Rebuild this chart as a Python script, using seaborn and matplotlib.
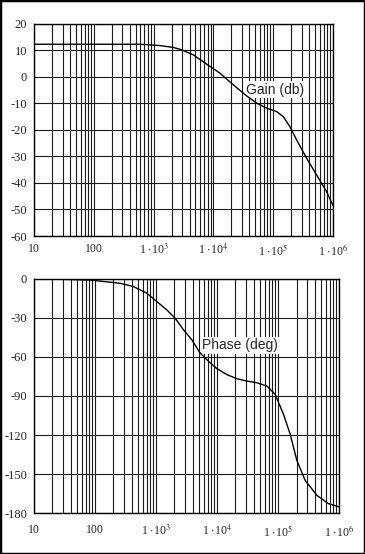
import numpy as np
import pandas as pd
import matplotlib
matplotlib.use("Agg")
import matplotlib.pyplot as plt
import matplotlib.ticker as mticker
from matplotlib.patches import Rectangle
import seaborn as sns

# gain curve
gain_freq = [10, 593, 1279, 2133, 2951, 4613, 7727, 12880, 21530, 36060,
             52970, 77800, 114500, 147600, 191000, 247200, 363100, 533300,
             785200, 1000000]
gain_db = [12.3, 12.3, 11.8, 11.1, 10.2, 8.3, 4.8, 1.4, -3.0, -7.2,
           -9.9, -11.8, -13.1, -15.0, -18.8, -23.8, -30.7, -37.0,
           -43.3, -48.5]

# phase curve
phase_freq = [18, 83, 257, 425, 705, 1026, 1496, 2046, 2805, 3846, 5260,
              7194, 9886, 14420, 21040, 30690, 44770, 65310, 89330, 122200,
              157400, 202800, 277300, 430500, 668300, 1000000]
phase_deg = [0, -0.8, -3.3, -5.8, -10.9, -17.3, -23.7, -30.1, -39.0, -46.7,
             -56.9, -63.2, -68.9, -73.5, -76.7, -78.5, -79.8, -82.3, -88.7,
             -104.0, -119.3, -139.6, -154.9, -166.4, -172.8, -175.3]

xticks = [10, 100, 1e3, 1e4, 1e5, 1e6]
xticklabels = ["10", "100", "1 $\\cdot$10$^{3}$", "1 $\\cdot$10$^{4}$",
               "1 $\\cdot$10$^{5}$", "1 $\\cdot$10$^{6}$"]
gain_ticks = [20, 10, 0, -10, -20, -30, -40, -50, -60]
phase_ticks = [0, -30, -60, -90, -120, -150, -180]

sns.set_style("white")
plt.rcParams["font.family"] = ["Liberation Serif", "DejaVu Serif"]
plt.rcParams["mathtext.fontset"] = "stix"

gain = pd.DataFrame({"freq": gain_freq, "db": gain_db})
phase = pd.DataFrame({"freq": phase_freq, "deg": phase_deg})

fig = plt.figure(figsize=(3.65, 5.54), dpi=100)
ax1 = fig.add_axes([0.0932, 0.574, 0.819, 0.383])
ax2 = fig.add_axes([0.0932, 0.074, 0.836, 0.4224])


def style_axis(ax, yticks, ylim):
    ax.set_xscale("log")
    ax.set_xlim(10, 1e6)
    ax.set_ylim(*ylim)
    ax.set_xticks(xticks)
    ax.set_xticklabels(xticklabels)
    ax.xaxis.set_minor_locator(mticker.LogLocator(base=10, subs=range(2, 10), numticks=20))
    ax.xaxis.set_minor_formatter(mticker.NullFormatter())
    ax.set_yticks(yticks)
    ax.set_yticklabels([str(t) for t in yticks])
    ax.grid(True, which="both", axis="x", color="0.1", lw=0.8)
    ax.grid(True, which="major", axis="y", color="0.1", lw=0.8)
    ax.tick_params(which="both", length=0, labelsize=9)
    ax.tick_params(axis="x", labelsize=8.5, pad=5)
    ax.tick_params(axis="y", pad=5)
    for s in ax.spines.values():
        s.set_color("black")
        s.set_linewidth(1.0)
    ax.set_xlabel("")
    ax.set_ylabel("")


sns.lineplot(data=gain, x="freq", y="db", ax=ax1, color="black", lw=1, zorder=3)
style_axis(ax1, gain_ticks, (-60, 20))
ax1.text(1.07e5, -4.9, "Gain (db)", ha="center", va="center", fontsize=10,
         family="Liberation Sans", zorder=2,
         bbox=dict(facecolor="white", edgecolor="none", pad=1))

sns.lineplot(data=phase, x="freq", y="deg", ax=ax2, color="black", lw=1, zorder=3)
style_axis(ax2, phase_ticks, (-180, 0))
ax2.tick_params(axis="x", pad=8)
ax2.text(2.35e4, -51, "Phase (deg)", ha="center", va="center", fontsize=10,
         family="Liberation Sans", zorder=2,
         bbox=dict(facecolor="white", edgecolor="none", pad=1))

fig.patches.append(Rectangle((0, 0), 1, 1, transform=fig.transFigure,
                             fill=False, edgecolor="black", lw=2.5))

fig.savefig("out.png", dpi=100)
